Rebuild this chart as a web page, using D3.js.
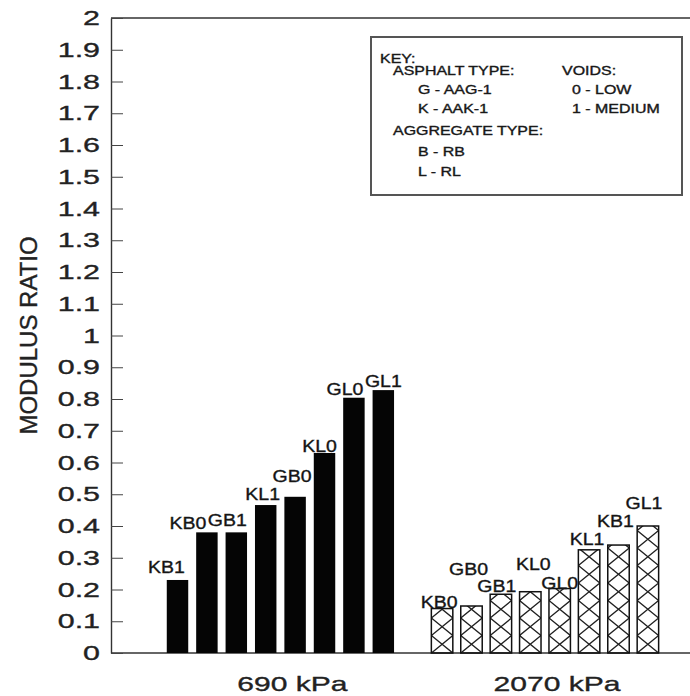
<!DOCTYPE html>
<html>
<head>
<meta charset="utf-8">
<script src="https://cdn.jsdelivr.net/npm/d3@7/dist/d3.min.js"></script>
<style>
  body { margin: 0; background: #fff; }
  svg { display: block; font-family: "Liberation Sans", Arial, sans-serif; }
  text { stroke: #222; stroke-width: 0.35px; }
</style>
</head>
<body>
<script>
// data
var groups = ["690 kPa", "2070 kPa"];
var labels690 = ["KB1", "KB0", "GB1", "KL1", "GB0", "KL0", "GL0", "GL1"];
var values690 = [0.23, 0.38, 0.38, 0.466, 0.492, 0.63, 0.804, 0.828];
var labels2070 = ["KB0", "GB0", "GB1", "KL0", "GL0", "KL1", "KB1", "GL1"];
var values2070 = [0.14, 0.148, 0.185, 0.193, 0.203, 0.325, 0.34, 0.40];
var yTicks = [0, 0.1, 0.2, 0.3, 0.4, 0.5, 0.6, 0.7, 0.8, 0.9, 1,
              1.1, 1.2, 1.3, 1.4, 1.5, 1.6, 1.7, 1.8, 1.9, 2];

// key text
var keyTitle = "KEY:";
var asphaltTitle = "ASPHALT TYPE:";
var asphaltTypes = ["G - AAG-1", "K - AAK-1"];
var voidsTitle = "VOIDS:";
var voidTypes = ["0 - LOW", "1 - MEDIUM"];
var aggregateTitle = "AGGREGATE TYPE:";
var aggregateTypes = ["B - RB", "L - RL"];

// label nudges so the bar labels sit like in the original (px)
var nudgeX690 = [-11, -19, -9, -3, -3, -5, -9, 0];
var nudgeY690 = [7, 3, 6, 5, 15, 1, 3, 3];
var nudgeX2070 = [-3, -3, -4, 3, 0, -2, -3, -4];
var nudgeY2070 = [1, 31, 2, 22, 0, 5, 18, 17];

var W = 690, H = 696;
var plotLeft = 111, plotRight = 700, plotTop = 18, plotBottom = 653;

var svg = d3.select("body").append("svg")
    .attr("width", W)
    .attr("height", H);

var y = d3.scaleLinear().domain([0, 2]).range([plotBottom, plotTop]);

var xGroup = d3.scaleBand()
    .domain(groups)
    .range([162.8, 662.6])
    .paddingInner(0.111)
    .paddingOuter(0);

var xBar = d3.scaleBand()
    .domain(d3.range(8))
    .range([0, xGroup.bandwidth()])
    .paddingInner(0.27)
    .paddingOuter(0.135);

// stretched text helper (the scan has wide lettering)
function wide(sel, x, yy, sx) {
    sel.attr("transform", "translate(" + x + "," + yy + ") scale(" + sx + ",1)");
}

// frame lines
svg.append("line")
    .attr("x1", plotLeft).attr("x2", plotRight)
    .attr("y1", y(2)).attr("y2", y(2))
    .attr("stroke", "#333").attr("stroke-width", 1.4);
svg.append("line")
    .attr("x1", plotLeft).attr("x2", plotRight)
    .attr("y1", y(0)).attr("y2", y(0))
    .attr("stroke", "#333").attr("stroke-width", 1.4);

// y axis, ticks inward
var yAxis = svg.append("g")
    .attr("transform", "translate(" + plotLeft + ",0)")
    .call(d3.axisLeft(y).tickValues(yTicks).tickSize(-12).tickSizeOuter(0).tickPadding(11)
        .tickFormat(function (d) { return String(d); }));
yAxis.select(".domain").attr("stroke", "#333").attr("stroke-width", 1.4);
yAxis.selectAll(".tick line").attr("stroke", "#444").attr("stroke-width", 1);
yAxis.selectAll(".tick text")
    .attr("x", -11 / 1.45)
    .attr("transform", "scale(1.45,1)")
    .attr("font-size", 21)
    .attr("font-family", "Liberation Sans, Arial, sans-serif")
    .attr("fill", "#222");

// y title
svg.append("text")
    .attr("transform", "translate(37," + ((plotTop + plotBottom) / 2) + ") rotate(-90)")
    .attr("text-anchor", "middle")
    .attr("font-size", 24)
    .attr("fill", "#222")
    .text("MODULUS RATIO");

// x group labels
var xAxis = svg.append("g")
    .attr("transform", "translate(0," + plotBottom + ")")
    .call(d3.axisBottom(xGroup).tickSize(0).tickPadding(23));
xAxis.select(".domain").remove();
xAxis.selectAll(".tick text")
    .attr("font-size", 21)
    .attr("font-family", "Liberation Sans, Arial, sans-serif")
    .attr("fill", "#222")
    .attr("transform", "translate(12,0) scale(1.43,1)");

// 690 kPa - solid bars
var g690 = svg.append("g").attr("transform", "translate(" + xGroup(groups[0]) + ",0)");
g690.selectAll("rect")
    .data(values690)
    .enter().append("rect")
    .attr("x", function (d, i) { return xBar(i); })
    .attr("y", function (d) { return y(d); })
    .attr("width", xBar.bandwidth())
    .attr("height", function (d) { return y(0) - y(d); })
    .attr("fill", "#050505");

g690.selectAll("text")
    .data(values690)
    .enter().append("text")
    .attr("text-anchor", "middle")
    .attr("font-size", 16)
    .attr("fill", "#111")
    .each(function (d, i) {
        wide(d3.select(this), xBar(i) + xBar.bandwidth() / 2 + nudgeX690[i], y(d) - nudgeY690[i], 1.22);
    })
    .text(function (d, i) { return labels690[i]; });

// 2070 kPa - cross hatched bars
var g2070 = svg.append("g").attr("transform", "translate(" + xGroup(groups[1]) + ",0)");
var defs = svg.append("defs");
var period = 17.5;

values2070.forEach(function (v, i) {
    var x0 = xBar(i), x1 = xBar(i) + xBar.bandwidth();
    var yTop = y(v), yBase = y(0);
    defs.append("clipPath")
        .attr("id", "clip" + i)
        .append("rect")
        .attr("x", x0).attr("y", yTop)
        .attr("width", x1 - x0).attr("height", yBase - yTop);

    var a = [], b = [];
    for (var k = 0; yBase - k * period > yTop - period; k++) {
        var yy = yBase - k * period;
        a.push([k % 2 === 0 ? x0 : x1, yy]);
        b.push([k % 2 === 0 ? x1 : x0, yy]);
    }
    var line = d3.line();
    var hatch = g2070.append("g").attr("clip-path", "url(#clip" + i + ")");
    hatch.append("path").attr("d", line(a));
    hatch.append("path").attr("d", line(b));
    hatch.selectAll("path")
        .attr("fill", "none")
        .attr("stroke", "#222")
        .attr("stroke-width", 1.4);

    g2070.append("rect")
        .attr("x", x0).attr("y", yTop)
        .attr("width", x1 - x0).attr("height", yBase - yTop)
        .attr("fill", "none")
        .attr("stroke", "#111")
        .attr("stroke-width", 1.5);
});

g2070.selectAll("text")
    .data(values2070)
    .enter().append("text")
    .attr("text-anchor", "middle")
    .attr("font-size", 16)
    .attr("fill", "#111")
    .each(function (d, i) {
        wide(d3.select(this), xBar(i) + xBar.bandwidth() / 2 + nudgeX2070[i], y(d) - nudgeY2070[i], 1.22);
    })
    .text(function (d, i) { return labels2070[i]; });

// key box
var key = svg.append("g");
key.append("rect")
    .attr("x", 371).attr("y", 37)
    .attr("width", 311).attr("height", 158)
    .attr("fill", "#fff")
    .attr("stroke", "#555")
    .attr("stroke-width", 2);

function keyText(str, x, yy) {
    var t = key.append("text")
        .attr("font-size", 12)
        .attr("fill", "#111")
        .text(str);
    wide(t, x, yy, 1.33);
}
keyText(keyTitle, 380, 63);
keyText(asphaltTitle, 393, 75);
keyText(voidsTitle, 562, 75);
asphaltTypes.forEach(function (s, i) { keyText(s, 418, 93.5 + i * 19.5); });
voidTypes.forEach(function (s, i) { keyText(s, 572, 93.5 + i * 19.5); });
keyText(aggregateTitle, 393, 135);
aggregateTypes.forEach(function (s, i) { keyText(s, 418, 156 + i * 20); });
</script>
</body>
</html>
